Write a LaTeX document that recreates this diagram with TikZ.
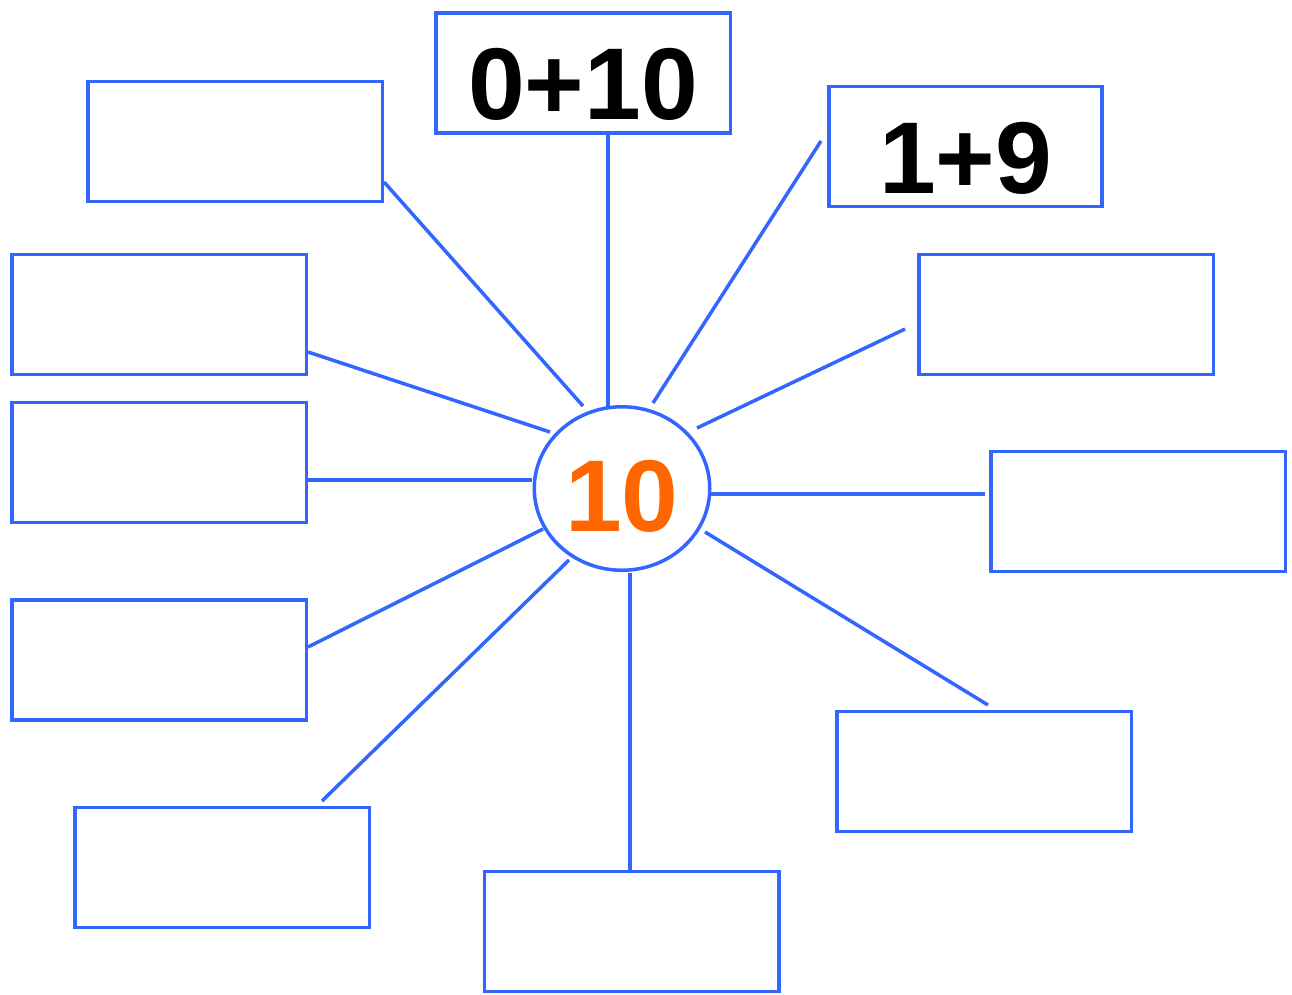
\documentclass[tikz,border=0pt]{standalone}
\usepackage{fontspec}
\setmainfont{Liberation Sans}
\usetikzlibrary{shapes.geometric}
\definecolor{lineblue}{HTML}{3366FF}
\definecolor{numorange}{HTML}{FF6600}
\tikzset{
  box/.style={draw=lineblue, line width=3.5pt, fill=white, rectangle, inner sep=0pt,
    minimum width=294.5pt, minimum height=120pt,
    font=\fontsize{102}{102}\selectfont\bfseries, text height=93pt, text depth=0pt},
  hub/.style={draw=lineblue, line width=3.5pt, ellipse, inner sep=0pt,
    minimum width=175.5pt, minimum height=163.5pt, text=numorange,
    font=\fontsize{102}{102}\selectfont\bfseries, text height=85pt, text depth=0pt},
  spoke/.style={draw=lineblue, line width=3.5pt, line cap=butt}
}
\begin{document}
\begin{tikzpicture}[x=1pt, y=-1pt]
\useasboundingbox (0,0) rectangle (1292,994);
% hub
\node[hub] (c) at (622,488.5) {10};
% boxes
\node[box] (t)  at (583,73) {0+10};
\node[box, minimum width=273pt] (tr) at (965.5,146.5) {1+9};
\node[box] (tl) at (235,141.5) {};
\node[box] (l1) at (159,314.5) {};
\node[box] (l2) at (159,462.5) {};
\node[box] (l3) at (159,660) {};
\node[box] (bl) at (222,867.5) {};
\node[box] (b)  at (631.5,931.5) {};
\node[box] (br) at (984,771.5) {};
\node[box] (r2) at (1138,511.5) {};
\node[box] (r1) at (1066,314.5) {};
% spoke ends near boxes
\coordinate (tl-o) at (384,182);
\coordinate (t-o)  at (608,135);
\coordinate (tr-o) at (821,141);
\coordinate (l1-o) at (308,352);
\coordinate (l2-o) at (308,480);
\coordinate (l3-o) at (308,647);
\coordinate (bl-o) at (322,801);
\coordinate (b-o)  at (630,873);
\coordinate (br-o) at (988,705);
\coordinate (r2-o) at (985,494);
\coordinate (r1-o) at (905,329);
% spoke ends near hub
\coordinate (tl-i) at (583,406);
\coordinate (t-i)  at (608,407);
\coordinate (tr-i) at (653,403);
\coordinate (l1-i) at (550,432);
\coordinate (l2-i) at (532,480);
\coordinate (l3-i) at (543,529);
\coordinate (bl-i) at (569,560);
\coordinate (b-i)  at (630,573);
\coordinate (br-i) at (705,532);
\coordinate (r2-i) at (711,494);
\coordinate (r1-i) at (697,428);
% spokes
\draw[spoke] (tl-o) -- (tl-i);
\draw[spoke] (t-o) -- (t-i);
\draw[spoke] (tr-o) -- (tr-i);
\draw[spoke] (l1-o) -- (l1-i);
\draw[spoke] (l2-o) -- (l2-i);
\draw[spoke] (l3-o) -- (l3-i);
\draw[spoke] (bl-o) -- (bl-i);
\draw[spoke] (b-o) -- (b-i);
\draw[spoke] (br-o) -- (br-i);
\draw[spoke] (r2-o) -- (r2-i);
\draw[spoke] (r1-o) -- (r1-i);
\end{tikzpicture}
\end{document}
